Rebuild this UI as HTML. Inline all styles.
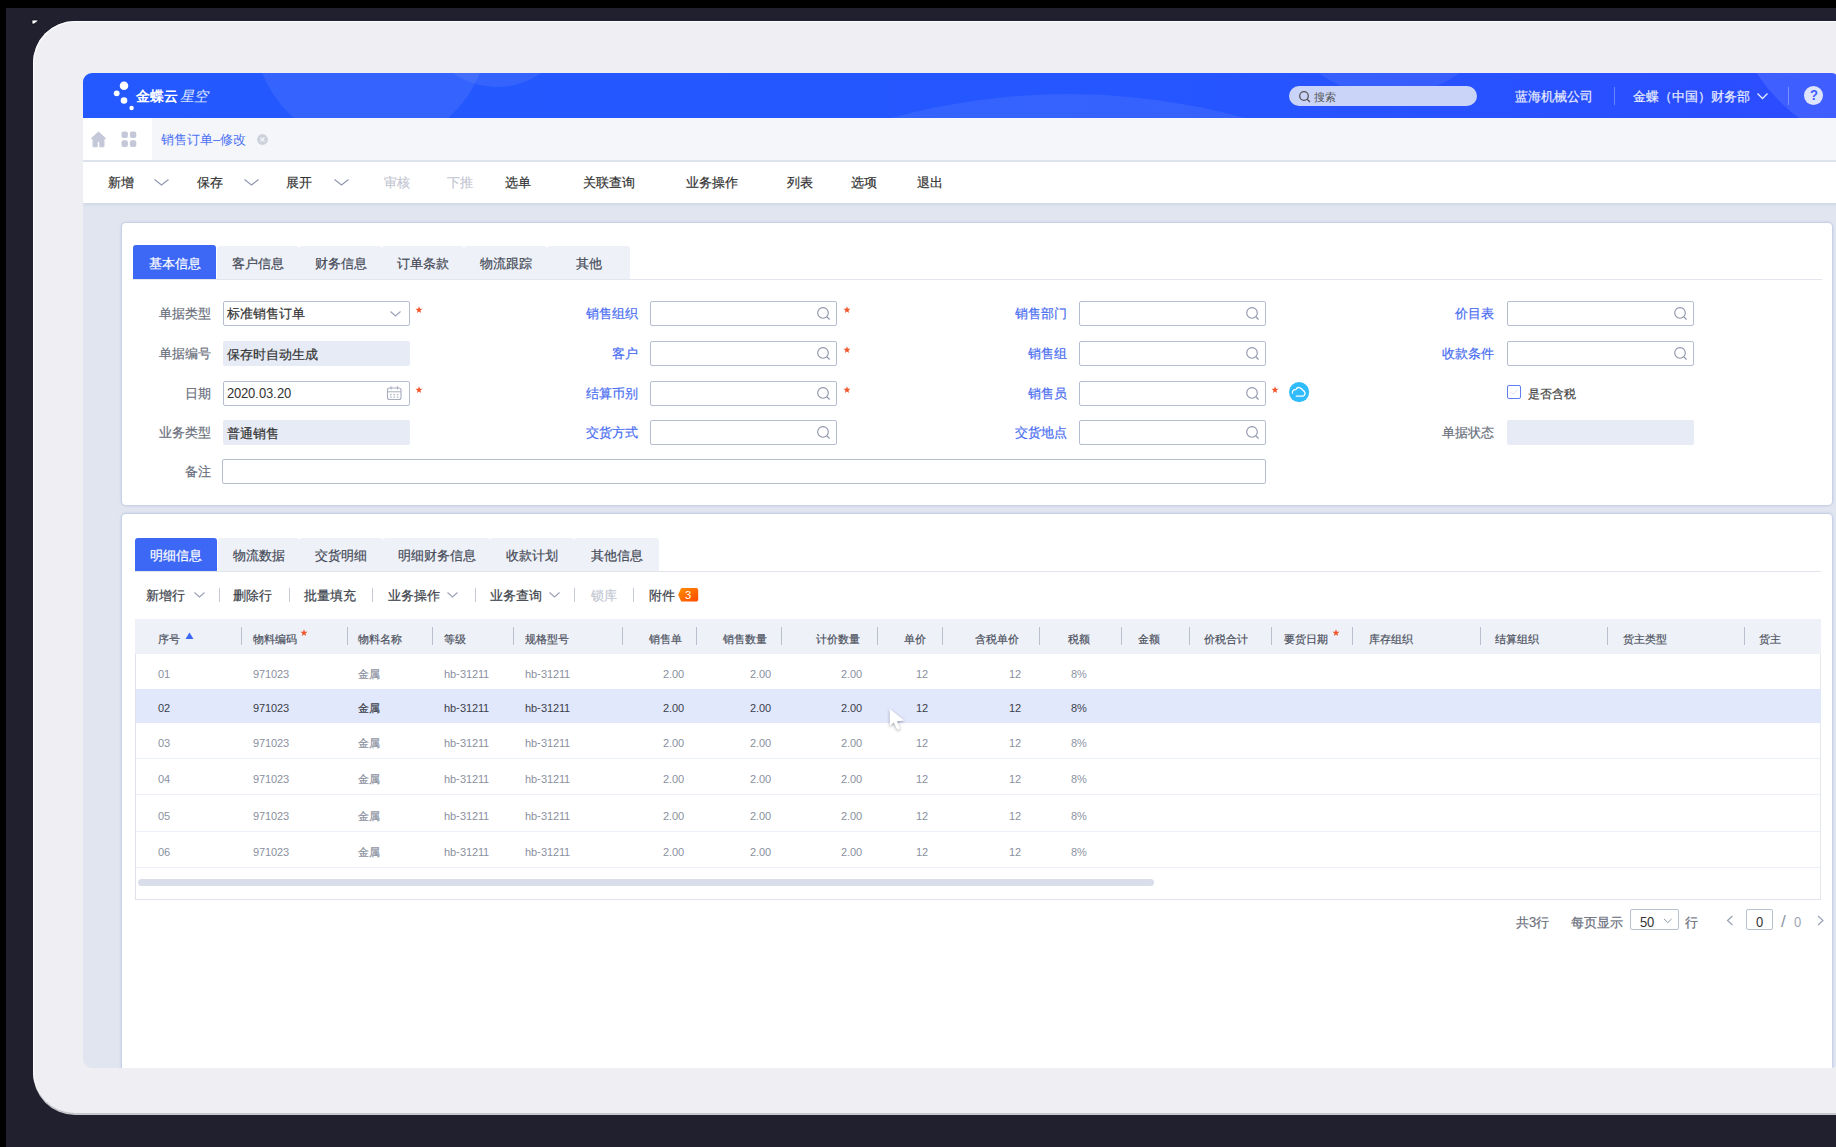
<!DOCTYPE html>
<html><head><meta charset="utf-8">
<style>
@font-face{font-family:"Liberation Sans";src:local("Liberation Sans"),local("LiberationSans");size-adjust:133.3%;unicode-range:U+2E80-9FFF,U+FF00-FFEF}
@font-face{font-family:"Liberation Sans";font-weight:bold;src:local("Liberation Sans Bold"),local("LiberationSans-Bold");size-adjust:133.3%;unicode-range:U+2E80-9FFF,U+FF00-FFEF}
@font-face{font-family:"Liberation Sans";src:local("Liberation Sans"),local("LiberationSans");unicode-range:U+0000-2E7F,U+A000-FEFF,U+FFF0-FFFF}
@font-face{font-family:"Liberation Sans";font-weight:bold;src:local("Liberation Sans Bold"),local("LiberationSans-Bold");unicode-range:U+0000-2E7F,U+A000-FEFF,U+FFF0-FFFF}
*{margin:0;padding:0;box-sizing:border-box}
html,body{width:1836px;height:1147px;overflow:hidden}
body{position:relative;background:#21202f;font-family:"Liberation Sans",sans-serif;color:#333}
.a{position:absolute}
.tb,.tb2,.tab,.lbl,.th,.hdt,.cj,.inp,.pg{-webkit-text-stroke:0.2px currentColor}
.lt{-webkit-text-stroke:0}
.ib{display:inline-block}
#blk-top{left:0;top:0;width:1836px;height:8px;background:#000}
#blk-left{left:0;top:0;width:6px;height:1147px;background:#000}
#frame{left:33px;top:21px;width:1900px;height:1092px;background:#eeeef3;border-radius:42px;box-shadow:inset 1px 1px 1px rgba(255,255,255,0.9),0 2px 0 #c6c6cd}
#app{left:83px;top:73px;width:1757px;height:995px;border-radius:9px;overflow:hidden;background:#e0e5ef}
#hdr{left:0;top:0;width:1757px;height:45px;background:linear-gradient(90deg,#2459ff 0%,#2556ff 60%,#2b4cff 100%);overflow:hidden}
.circ{position:absolute;border-radius:50%;background:rgba(200,210,235,0.1)}
#tabrow{left:0;top:45px;width:1757px;height:44px;background:#f4f6fa;border-bottom:2px solid #e0e4ed}
#tabrow .home{left:0;top:0;width:69px;height:42px;background:#fff}
#toolbar{left:0;top:89px;width:1757px;height:41px;background:#fff;box-shadow:0 1px 3px rgba(140,155,190,0.25)}
.tb{position:absolute;top:13px;font-size:13px;line-height:16px;color:#333;white-space:nowrap}
.tb.dis{color:#c3c7d2}
.chev{position:absolute;margin-top:-1px}
.hdt{font-size:13px;line-height:18px;color:#e8ecff;white-space:nowrap}
.tab{top:23px;height:33px;background:#eef1f8;border-radius:3px 3px 0 0;font-size:13px;line-height:35px;text-align:center;color:#454a57;white-space:nowrap}
.tab.act{background:#3d68f6;color:#fff;top:22px;height:34px;line-height:37px}
.lbl{width:120px;text-align:right;font-size:12.5px;line-height:17px;white-space:nowrap}
.lbl.g{color:#6a6f7c}.lbl.b{color:#4a6ef2}.lbl.d{color:#444}
.inp{width:187px;height:25px;border:1.3px solid #b5bdd0;border-radius:2px;background:#fff;font-size:13px;line-height:24px;padding-left:3px;color:#333;white-space:nowrap}
.inp.ro{border:none;background:#e6ebf5;padding-left:4px;line-height:27px}
.star{color:#f05a28;font-size:15px;line-height:16px;font-weight:bold}
.t2{top:24px;height:33px;line-height:35px}
.tab.act.t2{top:24px;height:33px;line-height:36px}
.tb2{position:absolute;top:74px;font-size:13px;line-height:16px;color:#3b3f4a;white-space:nowrap}
.tb2.dis{color:#c3c7d2}
.th{font-size:11px;line-height:14px;color:#4d5260;white-space:nowrap}
.td{font-size:11px;line-height:14px;color:#8a90a0;white-space:nowrap}
.td.sel{color:#3a3e4a}
.pg{font-size:13px;line-height:18px;color:#6a6f7c;white-space:nowrap}
.panel{position:absolute;background:#fff;border-radius:4px;box-shadow:0 0 2px 1px rgba(150,170,215,0.45)}
</style></head><body>
<div class="a" id="blk-top"></div>
<div class="a" id="blk-left"></div>
<div class="a" id="frame"></div>
<div class="a" id="app">
  <div class="a" id="hdr">
    <div class="circ" style="left:171px;top:-160px;width:234px;height:234px"></div>
    <div class="circ" style="left:338px;top:-138px;width:152px;height:152px"></div>
    <div class="circ" style="left:320px;top:21px;width:1330px;height:1330px"></div>
    <div class="circ" style="left:1187px;top:-215px;width:238px;height:238px"></div>
    <div class="circ" style="left:1646px;top:-264px;width:342px;height:342px;background:rgba(255,255,255,0.1)"></div>
    <svg class="a" style="left:0;top:0" width="140" height="45">
      <circle cx="41" cy="12.8" r="4.3" fill="#fff"/>
      <circle cx="33.7" cy="20.3" r="2.9" fill="#fff"/>
      <circle cx="41" cy="27.5" r="3.3" fill="#fff"/>
      <circle cx="48.6" cy="35" r="2.2" fill="#fff"/>
    </svg>
    <div class="a" style="left:53px;top:14px;font-size:14px;line-height:18px;color:#fff;font-weight:bold;white-space:nowrap">金蝶云<span style="display:inline-block;font-weight:normal;transform:skewX(-14deg);color:#dfe6ff;margin-left:3px">星空</span></div>
    <div class="a" style="left:1206px;top:13px;width:188px;height:20px;border-radius:10px;background:#c9d4f8"></div>
    <svg class="a" style="left:1215px;top:17px" width="14" height="14"><circle cx="6" cy="6" r="4.3" fill="none" stroke="#555" stroke-width="1.3"/><line x1="9.2" y1="9.2" x2="12" y2="12" stroke="#555" stroke-width="1.3"/></svg>
    <div class="a" style="left:1231px;top:17px;font-size:11px;line-height:14px;color:#555">搜索</div>
    <div class="a hdt" style="left:1432px;top:15px">蓝海机械公司</div>
    <div class="a" style="left:1531px;top:14px;width:1px;height:18px;background:rgba(255,255,255,0.3)"></div>
    <div class="a hdt" style="left:1550px;top:15px">金蝶（中国）财务部</div>
    <svg class="a" style="left:1673px;top:19px" width="14" height="9"><polyline points="1.5,1.5 6.5,6.5 11.5,1.5" fill="none" stroke="#e6eaff" stroke-width="1.3"/></svg>
    <div class="a" style="left:1705px;top:14px;width:1px;height:18px;background:rgba(255,255,255,0.3)"></div>
    <div class="a" style="left:1721px;top:13px;width:19px;height:19px;border-radius:50%;background:#dfe4fd;color:#3a5cff;font-weight:bold;font-size:13px;line-height:19px;text-align:center">?</div>
  </div>
  <div class="a" id="tabrow"><div class="a home"></div>
    <svg class="a" style="left:7px;top:13px" width="18" height="18"><path d="M8.5 1 L1.2 7.6 H3 V15.8 H7.2 V10.6 H9.8 V15.8 H14 V7.6 H15.8 Z" fill="#c4c8d9" stroke="#c4c8d9" stroke-width="1" stroke-linejoin="round"/></svg>
    <svg class="a" style="left:38px;top:13px" width="17" height="17"><rect x="0.5" y="0.6" width="6.4" height="6.4" rx="2" fill="#c4c8d9"/><rect x="8.9" y="0.6" width="6.4" height="6.4" rx="2" fill="#c4c8d9"/><rect x="0.5" y="9.3" width="6.4" height="6.7" rx="2" fill="#c4c8d9"/><rect x="8.9" y="9.3" width="6.4" height="6.7" rx="2" fill="#c4c8d9"/></svg>
    <div class="a" style="left:78px;top:14px;font-size:13px;line-height:16px;color:#4b70f2;white-space:nowrap">销售订单<span class="ib">–</span>修改</div>
    <svg class="a" style="left:173px;top:15px" width="13" height="13"><circle cx="6.5" cy="6.5" r="5.4" fill="#cdd1da"/><path d="M4.5 4.5 L8.5 8.5 M8.5 4.5 L4.5 8.5" stroke="#f4f6fa" stroke-width="1.2"/></svg>
  </div>
  <div class="a" id="toolbar">
    <div class="tb" style="left:24.5px">新增</div>
    <div class="tb" style="left:113.8px">保存</div>
    <div class="tb" style="left:202.6px">展开</div>
    <div class="tb dis" style="left:301.4px">审核</div>
    <div class="tb dis" style="left:364.4px">下推</div>
    <div class="tb" style="left:422px">选单</div>
    <div class="tb" style="left:500px">关联查询</div>
    <div class="tb" style="left:602.5px">业务操作</div>
    <div class="tb" style="left:703.7px">列表</div>
    <div class="tb" style="left:768px">选项</div>
    <div class="tb" style="left:834px">退出</div>
    <svg class="chev" style="left:70.3px;top:17px" width="18" height="9"><polyline points="1.5,1.5 8.5,7 15.5,1.5" fill="none" stroke="#8f97b0" stroke-width="1.1"/></svg>
    <svg class="chev" style="left:160px;top:17px" width="18" height="9"><polyline points="1.5,1.5 8.5,7 15.5,1.5" fill="none" stroke="#8f97b0" stroke-width="1.1"/></svg>
    <svg class="chev" style="left:249.7px;top:17px" width="18" height="9"><polyline points="1.5,1.5 8.5,7 15.5,1.5" fill="none" stroke="#8f97b0" stroke-width="1.1"/></svg>
  </div>
  <div class="panel" id="p1" style="left:39px;top:150px;width:1710px;height:282px">
<div class="a" style="left:11px;top:56px;width:1689px;height:1px;background:#e2e5ec"></div>
<div class="a tab act" style="left:11px;width:83px">基本信息</div>
<div class="a tab" style="left:95px;width:82px">客户信息</div>
<div class="a tab" style="left:177px;width:83px">财务信息</div>
<div class="a tab" style="left:260px;width:82px">订单条款</div>
<div class="a tab" style="left:342px;width:83px">物流跟踪</div>
<div class="a tab" style="left:425px;width:83px">其他</div>
<div class="a lbl g" style="left:-31px;top:83px">单据类型</div>
<div class="a lbl g" style="left:-31px;top:123px">单据编号</div>
<div class="a lbl g" style="left:-31px;top:163px">日期</div>
<div class="a lbl g" style="left:-31px;top:202px">业务类型</div>
<div class="a lbl g" style="left:-31px;top:241px">备注</div>
<div class="a lbl b" style="left:396px;top:83px">销售组织</div>
<div class="a lbl b" style="left:396px;top:123px">客户</div>
<div class="a lbl b" style="left:396px;top:163px">结算币别</div>
<div class="a lbl b" style="left:396px;top:202px">交货方式</div>
<div class="a lbl b" style="left:825px;top:83px">销售部门</div>
<div class="a lbl b" style="left:825px;top:123px">销售组</div>
<div class="a lbl b" style="left:825px;top:163px">销售员</div>
<div class="a lbl b" style="left:825px;top:202px">交货地点</div>
<div class="a lbl b" style="left:1252px;top:83px">价目表</div>
<div class="a lbl b" style="left:1252px;top:123px">收款条件</div>
<div class="a lbl g" style="left:1252px;top:202px">单据状态</div>
<div class="a inp" style="left:101px;top:78px">标准销售订单</div>
<svg class="a" style="left:267px;top:87px" width="14" height="8"><polyline points="1.5,1.5 6.5,6 11.5,1.5" fill="none" stroke="#9aa1b5" stroke-width="1.1"/></svg>
<div class="a inp ro" style="left:101px;top:118px">保存时自动生成</div>
<div class="a inp" style="left:101px;top:158px"><span class="lt" style="font-size:12.5px">2020.03.20</span></div>
<svg class="a" style="left:264px;top:162px" width="17" height="17"><rect x="1.5" y="3" width="13.5" height="11.5" rx="2" fill="none" stroke="#a8aec0" stroke-width="1.1"/><line x1="1.5" y1="6.8" x2="15" y2="6.8" stroke="#a8aec0" stroke-width="1"/><line x1="5" y1="1.2" x2="5" y2="4.5" stroke="#a8aec0" stroke-width="1.1"/><line x1="11.5" y1="1.2" x2="11.5" y2="4.5" stroke="#a8aec0" stroke-width="1.1"/><g fill="#b3b9c9"><rect x="4" y="9" width="1.6" height="1.3"/><rect x="7.4" y="9" width="1.6" height="1.3"/><rect x="10.8" y="9" width="1.6" height="1.3"/><rect x="4" y="11.5" width="1.6" height="1.3"/><rect x="7.4" y="11.5" width="1.6" height="1.3"/><rect x="10.8" y="11.5" width="1.6" height="1.3"/></g></svg>
<div class="a inp ro" style="left:101px;top:197px">普通销售</div>
<div class="a inp" style="left:100px;top:236px;width:1044px"></div>
<div class="a inp" style="left:528px;top:78px"></div><svg class="a" style="left:694px;top:82px" width="16" height="17"><circle cx="7" cy="7.9" r="5.3" fill="none" stroke="#8d94a8" stroke-width="1.1"/><line x1="10.9" y1="11.8" x2="13.6" y2="14.5" stroke="#8d94a8" stroke-width="1.2"/></svg>
<div class="a inp" style="left:528px;top:118px"></div><svg class="a" style="left:694px;top:122px" width="16" height="17"><circle cx="7" cy="7.9" r="5.3" fill="none" stroke="#8d94a8" stroke-width="1.1"/><line x1="10.9" y1="11.8" x2="13.6" y2="14.5" stroke="#8d94a8" stroke-width="1.2"/></svg>
<div class="a inp" style="left:528px;top:158px"></div><svg class="a" style="left:694px;top:162px" width="16" height="17"><circle cx="7" cy="7.9" r="5.3" fill="none" stroke="#8d94a8" stroke-width="1.1"/><line x1="10.9" y1="11.8" x2="13.6" y2="14.5" stroke="#8d94a8" stroke-width="1.2"/></svg>
<div class="a inp" style="left:528px;top:197px"></div><svg class="a" style="left:694px;top:201px" width="16" height="17"><circle cx="7" cy="7.9" r="5.3" fill="none" stroke="#8d94a8" stroke-width="1.1"/><line x1="10.9" y1="11.8" x2="13.6" y2="14.5" stroke="#8d94a8" stroke-width="1.2"/></svg>
<div class="a inp" style="left:957px;top:78px"></div><svg class="a" style="left:1123px;top:82px" width="16" height="17"><circle cx="7" cy="7.9" r="5.3" fill="none" stroke="#8d94a8" stroke-width="1.1"/><line x1="10.9" y1="11.8" x2="13.6" y2="14.5" stroke="#8d94a8" stroke-width="1.2"/></svg>
<div class="a inp" style="left:957px;top:118px"></div><svg class="a" style="left:1123px;top:122px" width="16" height="17"><circle cx="7" cy="7.9" r="5.3" fill="none" stroke="#8d94a8" stroke-width="1.1"/><line x1="10.9" y1="11.8" x2="13.6" y2="14.5" stroke="#8d94a8" stroke-width="1.2"/></svg>
<div class="a inp" style="left:957px;top:158px"></div><svg class="a" style="left:1123px;top:162px" width="16" height="17"><circle cx="7" cy="7.9" r="5.3" fill="none" stroke="#8d94a8" stroke-width="1.1"/><line x1="10.9" y1="11.8" x2="13.6" y2="14.5" stroke="#8d94a8" stroke-width="1.2"/></svg>
<div class="a inp" style="left:957px;top:197px"></div><svg class="a" style="left:1123px;top:201px" width="16" height="17"><circle cx="7" cy="7.9" r="5.3" fill="none" stroke="#8d94a8" stroke-width="1.1"/><line x1="10.9" y1="11.8" x2="13.6" y2="14.5" stroke="#8d94a8" stroke-width="1.2"/></svg>
<div class="a inp" style="left:1385px;top:78px"></div><svg class="a" style="left:1551px;top:82px" width="16" height="17"><circle cx="7" cy="7.9" r="5.3" fill="none" stroke="#8d94a8" stroke-width="1.1"/><line x1="10.9" y1="11.8" x2="13.6" y2="14.5" stroke="#8d94a8" stroke-width="1.2"/></svg>
<div class="a inp" style="left:1385px;top:118px"></div><svg class="a" style="left:1551px;top:122px" width="16" height="17"><circle cx="7" cy="7.9" r="5.3" fill="none" stroke="#8d94a8" stroke-width="1.1"/><line x1="10.9" y1="11.8" x2="13.6" y2="14.5" stroke="#8d94a8" stroke-width="1.2"/></svg>
<div class="a inp ro" style="left:1385px;top:197px"></div>
<svg class="a" style="left:291.6px;top:81.7px" width="10" height="10"><polygon points="5.00,1.30 5.91,3.75 8.52,3.86 6.47,5.48 7.17,7.99 5.00,6.55 2.83,7.99 3.53,5.48 1.48,3.86 4.09,3.75" fill="#f0562a"/></svg>
<svg class="a" style="left:291.6px;top:161.7px" width="10" height="10"><polygon points="5.00,1.30 5.91,3.75 8.52,3.86 6.47,5.48 7.17,7.99 5.00,6.55 2.83,7.99 3.53,5.48 1.48,3.86 4.09,3.75" fill="#f0562a"/></svg>
<svg class="a" style="left:719.5px;top:81.7px" width="10" height="10"><polygon points="5.00,1.30 5.91,3.75 8.52,3.86 6.47,5.48 7.17,7.99 5.00,6.55 2.83,7.99 3.53,5.48 1.48,3.86 4.09,3.75" fill="#f0562a"/></svg>
<svg class="a" style="left:719.5px;top:121.7px" width="10" height="10"><polygon points="5.00,1.30 5.91,3.75 8.52,3.86 6.47,5.48 7.17,7.99 5.00,6.55 2.83,7.99 3.53,5.48 1.48,3.86 4.09,3.75" fill="#f0562a"/></svg>
<svg class="a" style="left:719.5px;top:161.7px" width="10" height="10"><polygon points="5.00,1.30 5.91,3.75 8.52,3.86 6.47,5.48 7.17,7.99 5.00,6.55 2.83,7.99 3.53,5.48 1.48,3.86 4.09,3.75" fill="#f0562a"/></svg>
<svg class="a" style="left:1147.5px;top:161.7px" width="10" height="10"><polygon points="5.00,1.30 5.91,3.75 8.52,3.86 6.47,5.48 7.17,7.99 5.00,6.55 2.83,7.99 3.53,5.48 1.48,3.86 4.09,3.75" fill="#f0562a"/></svg>
<svg class="a" style="left:1166.5px;top:158.5px" width="21" height="21"><circle cx="10.1" cy="10.1" r="10.1" fill="#30bbfb"/><path d="M3.4 11.2 C3.2 8.6 5 7.4 6.9 7.6 C7.6 5.9 9.2 5.3 10.3 5.7 C12.4 6.2 13.3 7.6 14.3 8.6 C16 9.5 16.6 11.7 15.3 13.4 C14.8 14 14.3 14.1 13.6 14.2 L7.3 14.2" fill="none" stroke="#fff" stroke-width="1.3" stroke-linecap="round" stroke-linejoin="round"/></svg>
<div class="a" style="left:1385px;top:162px;width:14px;height:14px;border:1.3px solid #5f7ff3;border-radius:2px;background:#fff"></div>
<svg class="a" style="left:1387px;top:164px" width="10" height="10"><polyline points="1.5,5 4,7.5 8.5,2.5" fill="none" stroke="#dde3f5" stroke-width="1"/></svg>
<div class="a lbl d" style="left:1406px;top:163px;text-align:left;width:auto;font-size:12px">是否含税</div>
  </div>
  <div class="panel" id="p2" style="left:39px;top:441px;width:1710px;height:560px">
<div class="a" style="left:13px;top:57px;width:1686px;height:1px;background:#e2e5ec"></div>
<div class="a tab act t2" style="left:13px;width:82px">明细信息</div>
<div class="a tab t2" style="left:96px;width:81px">物流数据</div>
<div class="a tab t2" style="left:177px;width:84px">交货明细</div>
<div class="a tab t2" style="left:261px;width:107px">明细财务信息</div>
<div class="a tab t2" style="left:368px;width:84px">收款计划</div>
<div class="a tab t2" style="left:452px;width:85px">其他信息</div>
<div class="a tb2" style="left:24px">新增行</div>
<div class="a tb2" style="left:110.7px">删除行</div>
<div class="a tb2" style="left:181.7px">批量填充</div>
<div class="a tb2" style="left:266px">业务操作</div>
<div class="a tb2" style="left:368.3px">业务查询</div>
<div class="a tb2 dis" style="left:468.6px">锁库</div>
<div class="a tb2" style="left:526.8px">附件</div>
<svg class="a" style="left:70.5px;top:76.5px" width="14" height="8"><polyline points="1.5,1.5 6.5,6 11.5,1.5" fill="none" stroke="#9aa1b5" stroke-width="1.1"/></svg>
<svg class="a" style="left:323.8px;top:76.5px" width="14" height="8"><polyline points="1.5,1.5 6.5,6 11.5,1.5" fill="none" stroke="#9aa1b5" stroke-width="1.1"/></svg>
<svg class="a" style="left:426px;top:76.5px" width="14" height="8"><polyline points="1.5,1.5 6.5,6 11.5,1.5" fill="none" stroke="#9aa1b5" stroke-width="1.1"/></svg>
<div class="a" style="left:97.2px;top:74px;width:1px;height:14px;background:#c5cad6"></div>
<div class="a" style="left:166.8px;top:74px;width:1px;height:14px;background:#c5cad6"></div>
<div class="a" style="left:249.8px;top:74px;width:1px;height:14px;background:#c5cad6"></div>
<div class="a" style="left:352.7px;top:74px;width:1px;height:14px;background:#c5cad6"></div>
<div class="a" style="left:452.4px;top:74px;width:1px;height:14px;background:#c5cad6"></div>
<div class="a" style="left:510.5px;top:74px;width:1px;height:14px;background:#c5cad6"></div>
<svg class="a" style="left:556.4px;top:74.2px" width="21" height="14"><defs><linearGradient id="bg3" x1="0" y1="0" x2="1" y2="1"><stop offset="0" stop-color="#ff9000"/><stop offset="1" stop-color="#ff4800"/></linearGradient></defs><path d="M3.2 0 H18.2 Q20.2 0 20.2 2 V11.6 Q20.2 13.6 18.2 13.6 H3.2 L0.2 6.8 Z" fill="url(#bg3)"/></svg>
<div class="a" style="left:556.4px;top:74.2px;width:19px;height:14px;color:#fff;font-size:11px;line-height:14px;text-align:center">3</div>
<div class="a" style="left:13px;top:105px;width:1686px;height:281px;border:1px solid #dfe2e8;border-top:none;border-right:1px solid #e4e7ec"></div>
<div class="a" style="left:13px;top:105px;width:1686px;height:35px;background:#eef1f8"></div>
<div class="a" style="left:119.2px;top:113px;width:1px;height:18px;background:#b9bfcc"></div>
<div class="a" style="left:224.8px;top:113px;width:1px;height:18px;background:#b9bfcc"></div>
<div class="a" style="left:310.3px;top:113px;width:1px;height:18px;background:#b9bfcc"></div>
<div class="a" style="left:390.9px;top:113px;width:1px;height:18px;background:#b9bfcc"></div>
<div class="a" style="left:500.4px;top:113px;width:1px;height:18px;background:#b9bfcc"></div>
<div class="a" style="left:573.5px;top:113px;width:1px;height:18px;background:#b9bfcc"></div>
<div class="a" style="left:658.5px;top:113px;width:1px;height:18px;background:#b9bfcc"></div>
<div class="a" style="left:754.5px;top:113px;width:1px;height:18px;background:#b9bfcc"></div>
<div class="a" style="left:819.5px;top:113px;width:1px;height:18px;background:#b9bfcc"></div>
<div class="a" style="left:916.5px;top:113px;width:1px;height:18px;background:#b9bfcc"></div>
<div class="a" style="left:999.1px;top:113px;width:1px;height:18px;background:#b9bfcc"></div>
<div class="a" style="left:1066.8px;top:113px;width:1px;height:18px;background:#b9bfcc"></div>
<div class="a" style="left:1148.5px;top:113px;width:1px;height:18px;background:#b9bfcc"></div>
<div class="a" style="left:1230.1px;top:113px;width:1px;height:18px;background:#b9bfcc"></div>
<div class="a" style="left:1357.5px;top:113px;width:1px;height:18px;background:#b9bfcc"></div>
<div class="a" style="left:1485.2px;top:113px;width:1px;height:18px;background:#b9bfcc"></div>
<div class="a" style="left:1622.0px;top:113px;width:1px;height:18px;background:#b9bfcc"></div>
<div class="a th" style="left:35.5px;top:118px">序号</div>
<div class="a th" style="left:130.5px;top:118px">物料编码</div>
<div class="a th" style="left:235.5px;top:118px">物料名称</div>
<div class="a th" style="left:321.5px;top:118px">等级</div>
<div class="a th" style="left:402.9px;top:118px">规格型号</div>
<div class="a th" style="left:359.5px;top:118px;width:200px;text-align:right">销售单</div>
<div class="a th" style="left:444.5px;top:118px;width:200px;text-align:right">销售数量</div>
<div class="a th" style="left:538.0px;top:118px;width:200px;text-align:right">计价数量</div>
<div class="a th" style="left:604.1px;top:118px;width:200px;text-align:right">单价</div>
<div class="a th" style="left:697.2px;top:118px;width:200px;text-align:right">含税单价</div>
<div class="a th" style="left:945.5px;top:118px">税额</div>
<div class="a th" style="left:1016.1px;top:118px">金额</div>
<div class="a th" style="left:1081.8px;top:118px">价税合计</div>
<div class="a th" style="left:1162.2px;top:118px">要货日期</div>
<div class="a th" style="left:1246.9px;top:118px">库存组织</div>
<div class="a th" style="left:1373.0px;top:118px">结算组织</div>
<div class="a th" style="left:1500.5px;top:118px">货主类型</div>
<div class="a th" style="left:1637.3px;top:118px">货主</div>
<svg class="a" style="left:62.5px;top:118px" width="9" height="8"><polygon points="4.5,0.5 8.5,7 0.5,7" fill="#3d68f6"/></svg>
<svg class="a" style="left:176.9px;top:113.5px" width="10" height="10"><polygon points="5.00,1.30 5.91,3.75 8.52,3.86 6.47,5.48 7.17,7.99 5.00,6.55 2.83,7.99 3.53,5.48 1.48,3.86 4.09,3.75" fill="#f0562a"/></svg>
<svg class="a" style="left:1209.4px;top:113.5px" width="10" height="10"><polygon points="5.00,1.30 5.91,3.75 8.52,3.86 6.47,5.48 7.17,7.99 5.00,6.55 2.83,7.99 3.53,5.48 1.48,3.86 4.09,3.75" fill="#f0562a"/></svg>
<div class="a td" style="left:35.5px;top:152.5px">01</div>
<div class="a td" style="left:130.5px;top:152.5px">971023</div>
<div class="a td" style="left:235.5px;top:152.5px"><span class='cj'>金属</span></div>
<div class="a td" style="left:321.5px;top:152.5px">hb-31211</div>
<div class="a td" style="left:402.9px;top:152.5px">hb-31211</div>
<div class="a td" style="left:462.2px;top:152.5px;width:100px;text-align:right">2.00</div>
<div class="a td" style="left:548.5px;top:152.5px;width:100px;text-align:right">2.00</div>
<div class="a td" style="left:639.5px;top:152.5px;width:100px;text-align:right">2.00</div>
<div class="a td" style="left:705.5px;top:152.5px;width:100px;text-align:right">12</div>
<div class="a td" style="left:798.5px;top:152.5px;width:100px;text-align:right">12</div>
<div class="a td" style="left:948.5px;top:152.5px">8%</div>
<div class="a" style="left:14px;top:175px;width:1685px;height:34px;background:#e2e8fc"></div>
<div class="a td sel" style="left:35.5px;top:187.0px">02</div>
<div class="a td sel" style="left:130.5px;top:187.0px">971023</div>
<div class="a td sel" style="left:235.5px;top:187.0px"><span class='cj'>金属</span></div>
<div class="a td sel" style="left:321.5px;top:187.0px">hb-31211</div>
<div class="a td sel" style="left:402.9px;top:187.0px">hb-31211</div>
<div class="a td sel" style="left:462.2px;top:187.0px;width:100px;text-align:right">2.00</div>
<div class="a td sel" style="left:548.5px;top:187.0px;width:100px;text-align:right">2.00</div>
<div class="a td sel" style="left:639.5px;top:187.0px;width:100px;text-align:right">2.00</div>
<div class="a td sel" style="left:705.5px;top:187.0px;width:100px;text-align:right">12</div>
<div class="a td sel" style="left:798.5px;top:187.0px;width:100px;text-align:right">12</div>
<div class="a td sel" style="left:948.5px;top:187.0px">8%</div>
<div class="a" style="left:14px;top:244px;width:1685px;height:1px;background:#ebeff8"></div>
<div class="a td" style="left:35.5px;top:222.0px">03</div>
<div class="a td" style="left:130.5px;top:222.0px">971023</div>
<div class="a td" style="left:235.5px;top:222.0px"><span class='cj'>金属</span></div>
<div class="a td" style="left:321.5px;top:222.0px">hb-31211</div>
<div class="a td" style="left:402.9px;top:222.0px">hb-31211</div>
<div class="a td" style="left:462.2px;top:222.0px;width:100px;text-align:right">2.00</div>
<div class="a td" style="left:548.5px;top:222.0px;width:100px;text-align:right">2.00</div>
<div class="a td" style="left:639.5px;top:222.0px;width:100px;text-align:right">2.00</div>
<div class="a td" style="left:705.5px;top:222.0px;width:100px;text-align:right">12</div>
<div class="a td" style="left:798.5px;top:222.0px;width:100px;text-align:right">12</div>
<div class="a td" style="left:948.5px;top:222.0px">8%</div>
<div class="a" style="left:14px;top:280px;width:1685px;height:1px;background:#ebeff8"></div>
<div class="a td" style="left:35.5px;top:258.0px">04</div>
<div class="a td" style="left:130.5px;top:258.0px">971023</div>
<div class="a td" style="left:235.5px;top:258.0px"><span class='cj'>金属</span></div>
<div class="a td" style="left:321.5px;top:258.0px">hb-31211</div>
<div class="a td" style="left:402.9px;top:258.0px">hb-31211</div>
<div class="a td" style="left:462.2px;top:258.0px;width:100px;text-align:right">2.00</div>
<div class="a td" style="left:548.5px;top:258.0px;width:100px;text-align:right">2.00</div>
<div class="a td" style="left:639.5px;top:258.0px;width:100px;text-align:right">2.00</div>
<div class="a td" style="left:705.5px;top:258.0px;width:100px;text-align:right">12</div>
<div class="a td" style="left:798.5px;top:258.0px;width:100px;text-align:right">12</div>
<div class="a td" style="left:948.5px;top:258.0px">8%</div>
<div class="a" style="left:14px;top:317px;width:1685px;height:1px;background:#ebeff8"></div>
<div class="a td" style="left:35.5px;top:294.5px">05</div>
<div class="a td" style="left:130.5px;top:294.5px">971023</div>
<div class="a td" style="left:235.5px;top:294.5px"><span class='cj'>金属</span></div>
<div class="a td" style="left:321.5px;top:294.5px">hb-31211</div>
<div class="a td" style="left:402.9px;top:294.5px">hb-31211</div>
<div class="a td" style="left:462.2px;top:294.5px;width:100px;text-align:right">2.00</div>
<div class="a td" style="left:548.5px;top:294.5px;width:100px;text-align:right">2.00</div>
<div class="a td" style="left:639.5px;top:294.5px;width:100px;text-align:right">2.00</div>
<div class="a td" style="left:705.5px;top:294.5px;width:100px;text-align:right">12</div>
<div class="a td" style="left:798.5px;top:294.5px;width:100px;text-align:right">12</div>
<div class="a td" style="left:948.5px;top:294.5px">8%</div>
<div class="a" style="left:14px;top:353px;width:1685px;height:1px;background:#ebeff8"></div>
<div class="a td" style="left:35.5px;top:331.0px">06</div>
<div class="a td" style="left:130.5px;top:331.0px">971023</div>
<div class="a td" style="left:235.5px;top:331.0px"><span class='cj'>金属</span></div>
<div class="a td" style="left:321.5px;top:331.0px">hb-31211</div>
<div class="a td" style="left:402.9px;top:331.0px">hb-31211</div>
<div class="a td" style="left:462.2px;top:331.0px;width:100px;text-align:right">2.00</div>
<div class="a td" style="left:548.5px;top:331.0px;width:100px;text-align:right">2.00</div>
<div class="a td" style="left:639.5px;top:331.0px;width:100px;text-align:right">2.00</div>
<div class="a td" style="left:705.5px;top:331.0px;width:100px;text-align:right">12</div>
<div class="a td" style="left:798.5px;top:331.0px;width:100px;text-align:right">12</div>
<div class="a td" style="left:948.5px;top:331.0px">8%</div>
<div class="a" style="left:15.6px;top:364.5px;width:1016.4px;height:7.5px;border-radius:4px;background:#dadeea"></div>
<div class="a pg" style="left:1393.6px;top:400px">共<span class="ib">3</span>行</div>
<div class="a pg" style="left:1449px;top:400px">每页显示</div>
<div class="a" style="left:1508px;top:394.7px;width:49.4px;height:21.6px;border:1px solid #b9c0d0;border-radius:2px;background:#fff"></div>
<div class="a pg lt" style="left:1517.5px;top:400px;color:#333">50</div>
<svg class="a" style="left:1541px;top:403.5px" width="10" height="6"><polyline points="1,1 4.8,4.5 8.6,1" fill="none" stroke="#8f97ab" stroke-width="1"/></svg>
<div class="a pg" style="left:1562.8px;top:400px">行</div>
<svg class="a" style="left:1602.5px;top:400.5px" width="10" height="12"><polyline points="7.5,1 2.5,5.5 7.5,10" fill="none" stroke="#9aa1b5" stroke-width="1.2"/></svg>
<div class="a" style="left:1623.8px;top:394.7px;width:27.2px;height:21.6px;border:1px solid #b9c0d0;border-radius:2px;background:#fff"></div>
<div class="a pg lt" style="left:1633.5px;top:400px;color:#333">0</div>
<div class="a pg lt" style="left:1659px;top:399px;font-size:17px;color:#8d94a6">/</div>
<div class="a pg lt" style="left:1671.5px;top:400px;color:#a0a6b6">0</div>
<svg class="a" style="left:1693.5px;top:400.5px" width="10" height="12"><polyline points="2,1 7,5.5 2,10" fill="none" stroke="#9aa1b5" stroke-width="1.2"/></svg>
  </div>
</div>
<svg class="a" style="left:0;top:0" width="60" height="40"><polygon points="32,20 38,20 38,21 34,24 32,24" fill="#fff" stroke="#0b0b18" stroke-width="0.8"/></svg>
<svg class="a" style="left:880px;top:700px;overflow:visible" width="30" height="36"><g style="filter:drop-shadow(0 1px 1.5px rgba(40,40,70,0.45))"><path d="M9.7 8.7 L9.7 26 L13.8 22.5 L17.2 29.8 L20.2 28.4 L16.9 21.3 L24.4 20.6 Z" fill="#fff"/></g></svg>

</body></html>
